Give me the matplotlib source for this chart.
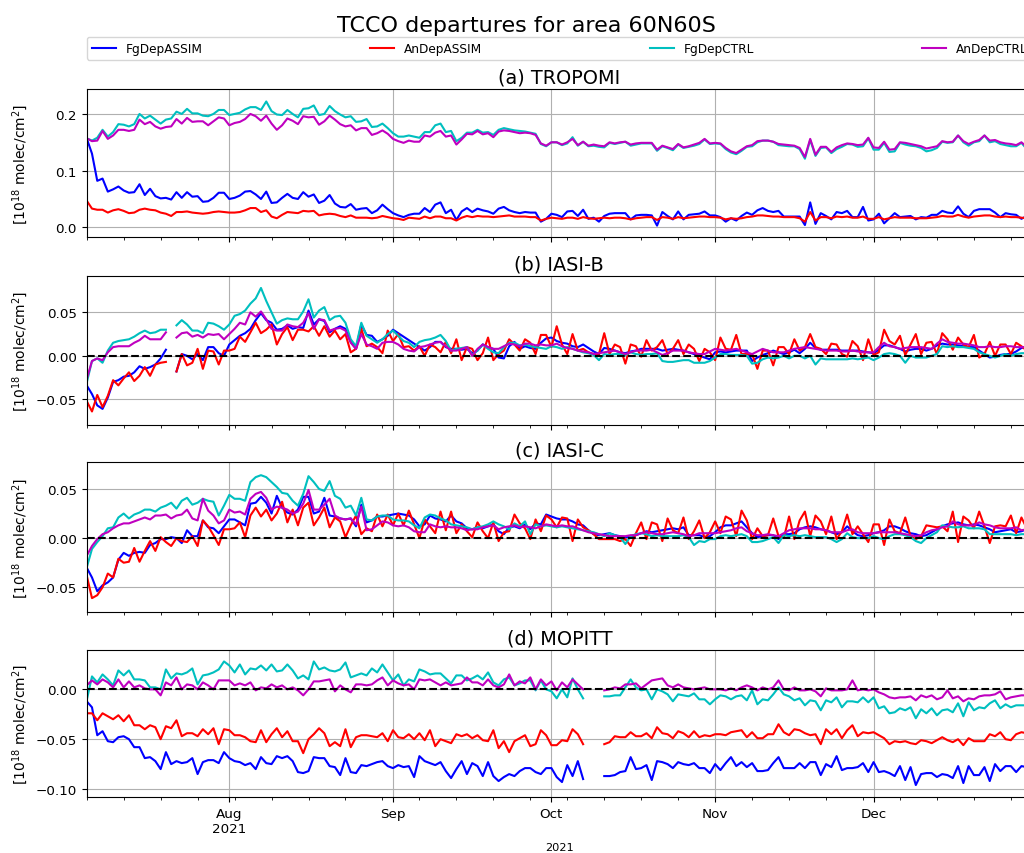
import numpy as np
import pandas as pd
import matplotlib
matplotlib.use("Agg")
import matplotlib.pyplot as plt
import matplotlib.dates as mdates

nan = float("nan")

# daily dates
dates = pd.date_range("2021-07-05", "2021-12-31", freq="D")

series_names = ["FgDepASSIM", "AnDepASSIM", "FgDepCTRL", "AnDepCTRL"]
panel_titles = ["(a) TROPOMI", "(b) IASI-B", "(c) IASI-C", "(d) MOPITT"]
month_ticks = ["2021-08-01", "2021-09-01", "2021-10-01", "2021-11-01", "2021-12-01"]
month_labels = ["Aug\n2021", "Sep", "Oct", "Nov", "Dec"]
ylabel = r"[10$^{18}$ molec/cm$^2$]"

# ---- values in units of 1e-3 x [1e18 molec/cm2] ----
# (a) TROPOMI
a_fg_assim = [157,130,82,86,63,67,72,65,61,62, 76,57,68,55,51,52,49,62,52,62,
              54,55,45,46,52,61,61,50,52,56, 63,64,58,50,63,43,44,52,59,52,
              50,62,54,58,43,47,57,42,36,35, 41,31,33,34,25,30,40,32,25,21,
              18,22,24,24,34,27,40,44,25,31, 13,28,34,27,33,30,28,24,33,36,
              30,27,25,27,26,26,10,15,24,22, 18,28,29,20,31,15,17,10,20,24,
              25,25,25,14,21,22,22,21,3,27, 20,14,28,14,22,23,24,28,21,21,
              18,10,16,12,20,26,22,30,34,29, 27,29,19,19,19,19,4,44,6,25,
              20,14,27,25,29,18,18,36,12,14, 24,7,16,25,18,19,20,14,18,17,
              22,22,29,26,25,37,24,18,29,32, 32,32,26,18,25,23,22,15,20,22]
a_an_assim = [47,33,31,31,26,30,32,29,25,26, 31,33,31,30,26,24,20,27,27,28,
              26,25,24,25,27,28,27,26,26,27, 30,34,34,27,30,19,16,22,27,26,
              25,29,28,29,21,23,24,23,20,18, 21,17,17,17,16,17,20,18,16,15,
              13,17,16,15,19,16,19,19,16,16, 12,17,20,18,20,19,19,18,19,20,
              21,19,19,19,18,18,12,15,17,16, 15,17,17,15,18,16,15,16,17,16,
              17,17,16,14,16,17,18,18,13,18, 17,15,18,16,17,18,19,19,18,18,
              17,14,16,15,16,18,19,21,21,20, 19,19,18,18,18,16,10,27,12,18,
              18,16,19,18,19,17,17,19,15,15, 18,14,16,18,17,17,17,16,16,16,
              17,18,20,19,19,22,19,17,19,20, 21,21,19,18,19,18,18,17,16,17]
a_fg_ctrl = [157,153,158,172,160,168,182,181,178,182, 200,192,197,190,183,190,192,204,200,209,
             201,201,197,196,200,207,207,198,200,202, 208,212,212,207,222,205,199,198,207,200,
             194,209,210,215,198,200,214,205,199,194, 196,186,187,191,177,178,183,175,166,160,
             160,162,160,158,168,168,180,183,168,170, 152,158,167,167,172,167,168,163,172,175,
             173,171,170,169,167,165,147,143,150,150, 145,148,159,144,151,143,144,142,141,149,
             147,149,151,144,146,148,148,148,135,143, 140,136,146,140,142,144,147,155,147,148,
             147,138,132,129,135,142,143,150,153,153, 151,145,144,143,143,138,121,154,126,140,
             141,131,138,142,147,146,142,143,157,137, 137,149,133,134,149,146,144,143,140,134,
             136,140,151,149,150,162,150,144,150,152, 162,150,152,147,145,143,143,149,138,140]
a_an_ctrl = [157,152,153,170,156,162,172,172,170,172, 190,182,186,178,174,177,178,191,183,193,
             186,187,187,180,187,194,192,180,184,186, 191,200,196,188,197,183,172,180,192,188,
             182,196,194,195,181,187,197,190,182,178, 180,171,175,175,163,166,171,165,156,152,
             149,153,151,151,162,160,167,170,160,162, 146,155,165,164,170,164,166,159,169,171,
             170,168,166,167,166,163,148,144,150,150, 146,150,156,145,151,144,146,144,143,150,
             148,150,151,146,148,149,149,149,137,144, 141,138,147,141,143,146,149,156,148,149,
             148,140,134,131,137,143,145,152,153,153, 151,147,146,145,144,140,124,156,128,142,
             142,133,141,145,148,147,145,146,158,141, 140,151,137,138,150,149,147,145,143,139,
             141,143,152,150,151,162,152,147,151,154, 162,153,154,150,148,147,145,150,142,143]

# (b) IASI-B
b_fg_assim = [-34,-44,-57,-61,-48,-30,-28,-24,-23,-19, -12,-15,-13,-10,-3,7, nan,
              -18,2,0,-4,2,-5,10,10,3,0, 13,18,23,26,31,41,49,41,38,30,
              31,35,31,33,32,52,36,42,40,27, 31,34,31,16,8,36,24,23,16,19,
              23,30,26,22,18,14,10,6,10,16, 16,10,8,8,7,8,3,6,13,10,
              8,-2,-3,11,16,8,
              11,9,8,15,20,21,17,15,14,11, 10,13,9,5,2,9,8,6,4,3,
              5,6,8,8,8,8,6,7,8,7, 6,4,2,0,-2,-4,4,5,4,5,
              6,6,6,-6,-2,1,3,6,4,2, 4,7,3,8,15,9,7,7,7,7,
              6,6,6,6,5,4,3,7,12,12, 10,8,5,7,8,8,6,8,12,14,
              13,13,12,11,10,10,6,2,-2,-1, 1,2,2,5,9,10,8]
b_an_assim = [-52,-64,-45,-59,-46,-28,-34,-26,-19,-29, -23,-13,-23,-10,-8,-7, nan,
              -18,2,-11,-8,8,-15,6,5,-10,6, 6,8,22,16,27,38,26,30,36,13,
              25,33,18,30,30,28,34,23,34,22, 29,19,25,4,8,31,11,14,10,3,
              29,17,25,10,11,6,11,0,13,10, 4,16,3,19,-5,10,8,-5,3,21,
              -5,2,6,19,13,6,
              19,15,2,24,24,10,34,13,2,25, 6,8,4,2,2,26,2,13,10,-9,
              13,11,-1,18,6,10,18,2,8,18, 2,13,8,-6,8,4,-5,21,8,7,
              24,2,2,2,-15,6,6,-11,10,10, 2,19,6,10,25,10,8,2,14,13,
              2,-1,17,11,-5,19,1,4,30,17, 13,23,1,13,25,2,15,16,2,26,
              19,7,21,13,10,24,-2,2,16,0, 13,13,2,15,11,6,14]
b_fg_ctrl = [-31,-6,-3,-8,6,15,17,18,19,22, 26,29,26,27,30,30, nan,
             35,41,36,29,29,26,38,37,34,30, 36,46,48,52,60,66,78,63,50,37,
             41,43,42,42,51,65,44,52,56,41, 45,46,38,19,11,38,23,19,15,19,
             25,29,23,17,15,10,16,18,19,21, 24,17,6,8,9,10,1,6,13,8,
             4,3,10,15,15,12,
             13,11,10,9,8,11,10,8,10,8, 6,4,3,1,-5,2,1,2,2,1,
             4,2,1,2,2,3,-6,-7,-7,-6, -5,-5,-8,-8,-8,-6,-2,2,2,1,
             1,1,0,-9,-8,-4,-2,-3,-2,0, -3,0,0,-3,0,-10,-3,-4,-4,-4,
             -4,-4,-3,-4,-3,-2,-5,-2,2,3, 2,0,-8,0,-2,-2,-2,0,2,11,
             10,11,10,10,9,8,4,2,0,-2, 0,2,0,2,3,3,2]
b_an_ctrl = [-27,-6,-3,-5,4,10,11,11,11,15, 18,23,19,19,19,27, nan,
             21,26,27,22,24,21,25,24,25,19, 25,31,38,36,50,45,51,42,31,29,
             29,36,34,33,38,49,31,42,41,29, 31,32,29,15,8,25,13,11,8,15,
             16,16,13,8,6,5,10,11,13,15, 16,11,6,6,8,10,0,8,13,10,
             8,8,11,14,13,11,
             14,14,12,13,12,12,14,11,9,8, 6,5,4,2,3,4,5,6,4,2,
             4,6,6,6,7,4,1,3,6,6, 6,4,3,2,2,5,8,7,6,7,
             8,6,4,2,5,8,6,4,4,4, 6,8,9,10,9,8,7,6,6,6,
             5,5,6,5,4,4,4,10,15,11, 10,8,9,10,10,10,9,8,14,19,
             16,15,14,14,13,12,10,10,11,10, 10,11,11,10,10,10,10]

# (c) IASI-C
c_fg_assim = [-30,-40,-54,-48,-45,-40,-22,-15,-18,-15, -14,-15,-7,-5,-1,-1,1,0,-5,8,
              2,2,18,11,10,5,12,19,19,16, 13,35,36,42,36,25,43,31,26,24,
              29,42,42,25,27,41,23,22,20,19, 20,12,34,16,18,22,22,23,24,25,
              24,23,19,12,14,23,20,19,17,23, 17,15,10,9,11,10,12,14,7,4,
              11,12,10,
              14,9,15,14,24,22,20,19,19,17, 14,13,8,4,3,4,5,3,2,1,
              1,3,5,7,6,7,8,9,10,9, 11,3,3,3,1,2,6,11,13,13,
              15,17,11,5,1,2,3,3,-1,4, 4,5,9,11,12,11,9,8,6,4,
              6,12,7,3,2,3,5,6,8,12, 12,10,7,5,4,2,3,6,9,12,
              14,15,16,14,13,14,13,11,9,6, 7,8,9,6,7,9,8]
c_an_assim = [-38,-61,-58,-50,-36,-40,-21,-25,-24,-10, -24,-13,-3,-13,1,-4,-8,0,-3,-4,
              2,-8,18,12,3,-7,9,9,10,16, 1,23,31,22,29,18,25,37,16,29,
              13,31,36,13,21,31,11,21,17,1, 13,23,4,10,7,24,12,24,13,25,
              13,28,14,0,19,12,5,27,8,27, 5,14,7,1,16,7,0,16,-3,6,
              7,24,15,
              10,-1,19,7,23,19,11,21,20,-3, 19,11,8,4,-1,-1,-1,-1,-3,-1,
              -8,5,16,-1,16,14,-3,20,8,5, 21,-1,7,18,0,6,17,5,22,19,
              2,28,18,-1,10,2,3,20,2,0, 22,-1,18,27,2,23,17,4,22,-1,
              7,24,4,12,4,-4,14,14,-7,19, 7,5,21,2,-1,2,13,12,11,12,
              7,27,-4,22,18,10,27,12,-5,12, 13,12,23,5,21,10,18]
c_fg_ctrl = [-30,-11,-4,2,10,11,21,25,20,24, 26,29,29,27,31,33,36,30,38,41,
             34,36,40,38,37,23,33,44,40,40, 38,57,62,64,62,57,52,46,45,38,
             33,45,63,57,50,48,58,43,40,31, 33,23,41,19,18,22,23,23,19,18,
             18,17,13,10,21,24,23,20,18,14, 13,12,11,9,11,12,14,17,14,12,
             9,15,12,
             17,4,14,12,13,12,11,12,11,10, 9,8,7,6,4,2,5,3,1,-6,
             2,4,5,4,2,3,2,2,2,2, 3,1,-7,-3,-4,-1,-1,2,3,2,
             3,4,2,-4,-4,-3,-1,1,-5,3, 2,3,2,3,2,1,1,1,-1,-4,
             -1,5,1,0,0,0,2,0,-1,2, 4,4,3,1,-3,-5,0,3,6,13,
             12,11,11,12,10,10,10,9,4,4, 4,4,4,3,4,4,5]
c_an_ctrl = [-18,-8,-1,4,6,10,13,15,15,17, 19,21,19,23,23,24,20,23,24,29,
             20,18,40,28,23,15,18,29,26,27, 24,40,45,47,41,29,32,31,29,25,
             27,35,49,29,29,34,40,23,20,19, 20,14,32,8,9,13,17,16,13,12,
             13,11,7,6,6,14,12,11,12,11, 11,10,8,9,9,11,12,13,9,11,
             12,13,11,
             12,11,10,12,14,13,12,13,12,12, 10,8,6,5,4,3,2,2,2,2,
             3,3,5,6,5,4,4,5,6,5, 4,2,3,5,5,5,5,6,7,8,
             10,11,7,5,3,3,4,3,2,5, 8,9,10,10,10,9,9,8,6,6,
             6,8,9,6,5,5,5,6,6,6, 6,5,4,3,2,3,6,8,9,11,
             12,17,14,13,13,13,16,14,13,11, 10,10,10,11,8,9,9]

# (d) MOPITT
d_fg_assim = [-12,-18,-46,-42,-52,-53,-48,-47,-50,-58, -58,-69,-68,-72,-80,-63,-75,-72,-74,-73,
              -69,-85,-73,-71,-71,-74,-63,-69,-72,-73, -76,-74,-80,-68,-74,-75,-67,-69,-67,-72,
              -83,-84,-82,-68,-69,-69,-77,-78,-86,-69, -83,-84,-76,-77,-75,-73,-72,-77,-79,-76,
              -78,-77,-88,-67,-72,-74,-76,-73,-82,-89, -80,-72,-85,-74,-77,-87,-73,-87,-92,-88,
              -85,-87,-82,
              -79,-79,-83,-85,-79,-79,-88,-93,-76,-87,-72,-90, nan,nan,nan,
              -87,-87,-86,-83,-82,-68,-80,-79,-76,-91, -72,-73,-75,-79,-73,-75,-76,-74,-79,-79,
              -84,-75,-81,-74,-68,-77,-73,-78,-74,-82, -82,-81,-74,-68,-79,-79,-79,-74,-79,-73,
              -73,-86,-75,-78,-67,-81,-79,-79,-78,-74, -83,-73,-83,-82,-84,-87,-77,-91,-78,-96,
              -85,-84,-84,-88,-85,-86,-89,-77,-94,-77, -86,-86,-78,-92,-75,-82,-77,-77,-83,-77,
              -78,-80]
d_an_assim = [-24,-24,-31,-24,-27,-30,-26,-32,-26,-36, -36,-40,-36,-38,-50,-37,-39,-31,-47,-44,
              -44,-47,-40,-45,-39,-55,-40,-41,-46,-46, -48,-52,-53,-41,-53,-45,-39,-48,-42,-52,
              -52,-64,-50,-45,-39,-44,-57,-53,-57,-40, -58,-48,-46,-46,-47,-48,-44,-52,-41,-48,
              -49,-45,-50,-44,-51,-41,-57,-50,-52,-54, -45,-47,-45,-49,-46,-51,-52,-41,-59,-52,
              -63,-52,-49,
              -46,-57,-55,-41,-46,-56,-56,-51,-52,-40,-45,-55, nan,nan,nan,
              -55,-53,-47,-48,-48,-43,-47,-47,-44,-49, -38,-44,-45,-49,-42,-44,-48,-42,-48,-46,
              -47,-45,-45,-46,-43,-42,-41,-48,-43,-49, -49,-45,-45,-35,-43,-46,-40,-41,-44,-46,
              -45,-55,-40,-45,-40,-49,-41,-36,-47,-43, -44,-43,-46,-49,-55,-52,-53,-52,-54,-55,
              -51,-52,-54,-51,-48,-51,-53,-50,-56,-49, -52,-52,-52,-45,-47,-43,-50,-51,-45,-43,
              -44,-45]
d_fg_ctrl = [-11,13,7,15,10,4,19,14,19,10, 10,9,2,2,0,20,11,16,15,17,
             21,5,14,15,17,20,28,24,17,25, 15,21,20,24,19,25,18,19,25,19,
             11,14,10,28,20,22,19,18,20,27, 12,14,16,14,21,17,25,17,9,15,
             4,10,8,20,18,15,16,16,11,6, 14,14,9,11,14,10,17,7,4,10,
             12,4,6,
             9,9,-1,9,0,-2,-9,0,-8,11,0,-9, nan,nan,nan,
             -7,-7,-6,-6,2,10,2,-1,0,-10, 0,-2,-5,-12,-5,-6,-7,-4,-10,-10,
             -15,-10,-6,-7,-10,-7,-6,-11,-1,-15, -10,-11,-5,2,-5,-7,-11,-9,-16,-11,
             -12,-21,-11,-13,-8,-18,-12,-12,-13,-8, -13,-8,-19,-17,-24,-23,-19,-21,-18,-29,
             -20,-24,-19,-26,-21,-20,-23,-14,-27,-13, -21,-18,-19,-14,-11,-19,-15,-18,-16,-16,
             -16,-15]
d_an_ctrl = [4,9,5,10,7,2,10,2,8,2, 4,1,0,0,-6,7,4,12,0,5,
             4,0,7,4,0,9,9,9,4,6, 4,7,-1,2,1,5,2,4,0,2,
             -1,-6,0,8,8,9,10,-2,4,0, -3,5,5,4,5,9,12,4,9,6,
             4,5,0,10,9,10,7,4,7,4, 5,6,12,7,7,4,10,4,2,5,
             15,4,8,
             6,12,0,10,4,8,-1,7,2,10,5,0, nan,nan,nan,
             -1,0,2,1,5,5,6,1,5,9, 10,11,4,2,5,2,1,0,1,2,
             0,0,0,-1,1,-1,2,4,2,-1, 2,0,2,9,0,-1,2,-1,-1,0,
             -2,-7,1,-1,-1,-1,0,9,-1,0, -1,0,-3,-5,-8,-9,-8,-8,-7,-11,
             -6,-8,-6,-10,-8,-1,-9,-7,-12,-9, -10,-7,-6,-6,-5,-2,-10,-8,-7,-6,
             -6,-5]

panel_data = [
    [a_fg_assim, a_an_assim, a_fg_ctrl, a_an_ctrl],
    [b_fg_assim, b_an_assim, b_fg_ctrl, b_an_ctrl],
    [c_fg_assim, c_an_assim, c_fg_ctrl, c_an_ctrl],
    [d_fg_assim, d_an_assim, d_fg_ctrl, d_an_ctrl],
]
for p, group in enumerate(panel_data):
    for s, arr in enumerate(group):
        assert len(arr) == len(dates), (p, s, len(arr))

colors = ["b", "r", "c", "m"]
ylims = [(-0.0176, 0.244), (-0.0792, 0.0914), (-0.0748, 0.0771), (-0.1083, 0.0398)]
yticks = [[0.0, 0.1, 0.2], [-0.05, 0.0, 0.05], [-0.05, 0.0, 0.05], [-0.10, -0.05, 0.0]]
zero_line = [False, True, True, True]

W, H = 1024, 854
fig = plt.figure(figsize=(W / 100, H / 100), dpi=100)
left = 86.7 / W
width = (1032 - 86.7) / W
px_boxes = [(90.0, 238.3), (277.3, 425.7), (463.3, 612.7), (650.7, 798.3)]

axes = []
for k, (top, bot) in enumerate(px_boxes):
    ax = fig.add_axes([left, 1 - bot / H, width, (bot - top) / H])
    axes.append(ax)
    lines = []
    for s in range(4):
        vals = np.array(panel_data[k][s], dtype=float) * 1e-3
        ln, = ax.plot(dates, vals, color=colors[s], lw=1.5, label=series_names[s])
        lines.append(ln)
    if zero_line[k]:
        ax.axhline(0.0, color="k", ls="--", lw=1.5)
    ax.set_xlim(dates[0], dates[-1])
    ax.set_ylim(*ylims[k])
    ax.set_yticks(yticks[k])
    ax.set_xticks(pd.to_datetime(month_ticks))
    ax.xaxis.set_minor_locator(mdates.WeekdayLocator(byweekday=mdates.MO))
    ax.grid(True, which="major", color="#b0b0b0", lw=0.8)
    ax.tick_params(labelsize=9.7)
    ax.set_title(panel_titles[k], fontsize=13.9, pad=4.8)
    ax.set_ylabel(ylabel, fontsize=10)
    ax.yaxis.set_label_coords(-0.06, 0.5)
    if k < 3:
        ax.tick_params(axis="x", labelbottom=False)
    else:
        ax.set_xticklabels(month_labels)
        ax.set_xlabel("2021", fontsize=8.2, labelpad=5)
    if k == 0:
        handles = lines

fig.legend(handles, series_names, loc="lower left",
           bbox_to_anchor=(left, 1 - 60.7 / H, width, 0.02),
           ncol=4, mode="expand", borderaxespad=0, fontsize=8.7)
fig.text(526.5 / W, 1 - 32 / H, "TCCO departures for area 60N60S",
         ha="center", va="baseline", fontsize=16)

fig.savefig("out.png", dpi=100)
